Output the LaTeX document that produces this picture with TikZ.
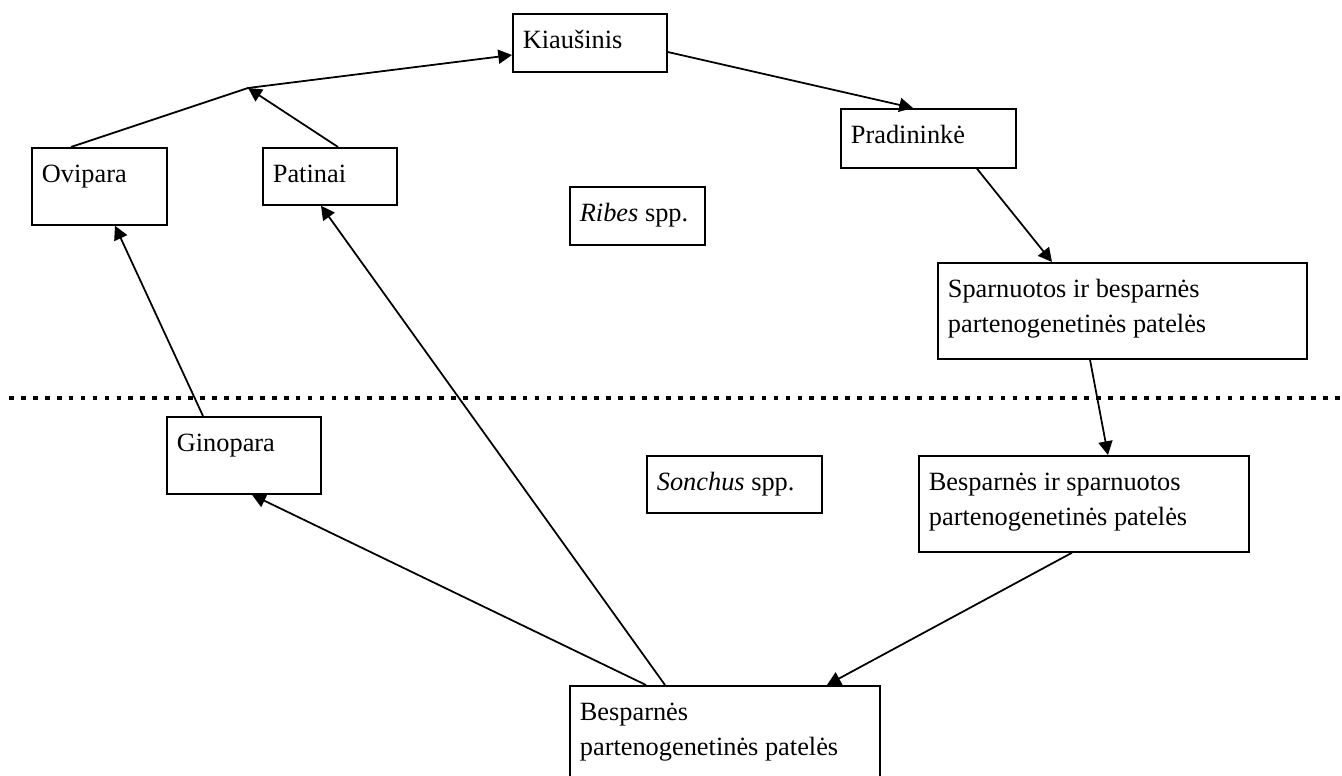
\documentclass[tikz,border=0pt]{standalone}
\usepackage{fontspec}
\setmainfont{Liberation Serif}
\usetikzlibrary{arrows.meta,calc}

\tikzset{
  stage/.style={draw, line width=1pt, anchor=north west, inner xsep=0.2cm, inner ysep=0.22cm,
    font=\fontsize{15}{19.5}\selectfont},
  link/.style={line width=1pt},
  flow/.style={line width=1pt, -{Triangle[length=7.8pt,width=8pt]}},
  divider/.style={line width=2.8pt, dash pattern=on 2.7pt off 4.1pt}
}
\newcommand{\stagebox}[3]{\parbox[t][#2][t]{#1}{\strut#3}}

\begin{document}
\begin{tikzpicture}[x=0.02cm, y=-0.02cm]
  \useasboundingbox (0,0) rectangle (1342,776);

  % upper half: Ribes
  \node[stage] (kia) at (512,13) {\stagebox{2.68cm}{0.72cm}{Kiaušinis}};
  \node[stage] (pra) at (840,108) {\stagebox{3.10cm}{0.74cm}{Pradininkė}};
  \node[stage] (ovi) at (31,147) {\stagebox{2.30cm}{1.10cm}{Ovipara}};
  \node[stage] (pat) at (262,147) {\stagebox{2.28cm}{0.70cm}{Patinai}};
  \node[stage] (rib) at (569,186) {\stagebox{2.30cm}{0.72cm}{\textit{Ribes} spp.}};
  \node[stage] (spa) at (937,262) {\stagebox{6.98cm}{1.48cm}{Sparnuotos ir besparnės\\partenogenetinės patelės}};

  \draw[divider] (9,398) -- (1342,398);

  % lower half: Sonchus
  \node[stage] (gin) at (166,416) {\stagebox{2.68cm}{1.10cm}{Ginopara}};
  \node[stage] (son) at (646,455) {\stagebox{3.10cm}{0.70cm}{\textit{Sonchus} spp.}};
  \node[stage] (bis) at (918,455) {\stagebox{6.20cm}{1.48cm}{Besparnės ir sparnuotos\\partenogenetinės patelės}};
  \node[stage] (bes) at (569,685) {\stagebox{5.80cm}{1.76cm}{Besparnės\\partenogenetinės patelės}};

  % cycle
  \coordinate (join) at (248,88);
  \draw[link] ($(ovi.north west)+(40,0)$) -- (join);
  \draw[flow] ($(pat.north west)+(76,0)$) -- (join);
  \draw[flow] (join) -- ($(kia.north west)+(0,42)$);
  \draw[flow] ($(kia.north east)+(0,39)$) -- ($(pra.north west)+(73,0)$);
  \draw[flow] ($(pra.south west)+(137,0)$) -- ($(spa.north west)+(115,0)$);
  \draw[flow] ($(spa.south west)+(153,0)$) -- ($(bis.north west)+(190,0)$);
  \draw[flow] ($(bis.south west)+(154,0)$) -- ($(bes.north west)+(258,0)$);
  \draw[flow] ($(bes.north west)+(77,0)$) -- ($(gin.south west)+(86,0)$);
  \draw[flow] ($(bes.north west)+(96,0)$) -- ($(pat.south west)+(59,0)$);
  \draw[flow] ($(gin.north west)+(37,0)$) -- ($(ovi.south west)+(84,0)$);
\end{tikzpicture}
\end{document}
